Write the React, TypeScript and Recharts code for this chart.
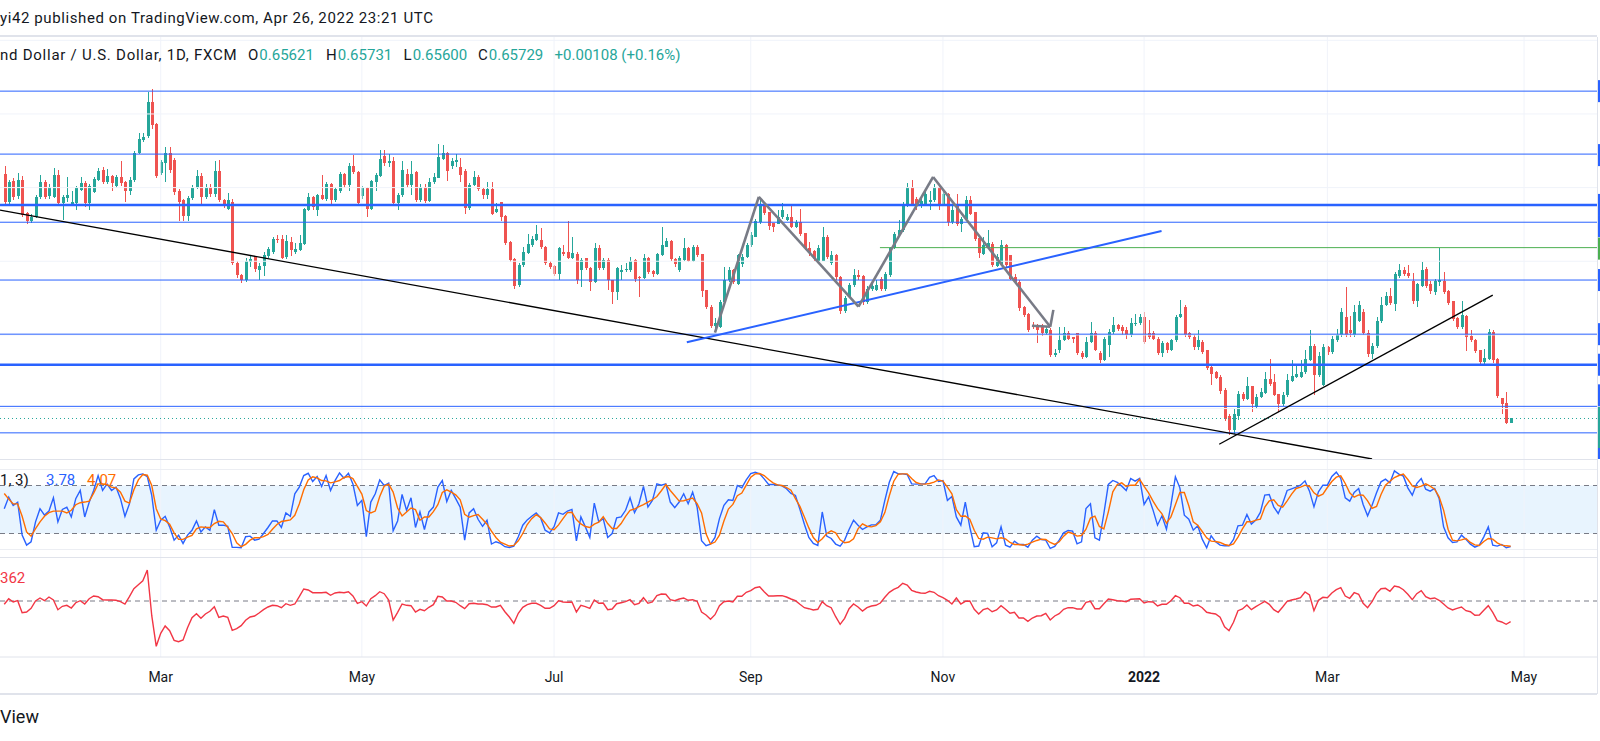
import React from "react";
import { ComposedChart, LineChart, Line, Bar, XAxis, YAxis, ReferenceLine, ReferenceArea } from "recharts";

// NZD/USD daily candles (one entry per bar)
const opens = [
  0.7236, 0.7162, 0.7218, 0.7178, 0.7222, 0.7130, 0.7108, 0.7121, 0.7174, 0.7216,
  0.7178, 0.7175, 0.7234, 0.7157, 0.7173, 0.7155, 0.7157, 0.7193, 0.7212, 0.7157,
  0.7189, 0.7221, 0.7248, 0.7216, 0.7232, 0.7204, 0.7230, 0.7216, 0.7191, 0.7222,
  0.7295, 0.7329, 0.7340, 0.7433, 0.7372, 0.7239, 0.7268, 0.7295, 0.7275, 0.7191,
  0.7165, 0.7123, 0.7171, 0.7198, 0.7232, 0.7175, 0.7203, 0.7184, 0.7246, 0.7165,
  0.7142, 0.7162, 0.6996, 0.6963, 0.6949, 0.6998, 0.7011, 0.6976, 0.6986, 0.7015,
  0.7026, 0.7061, 0.7061, 0.7011, 0.7053, 0.7026, 0.7031,
  0.7047, 0.7140, 0.7174, 0.7140, 0.7179, 0.7168, 0.7210, 0.7165, 0.7190, 0.7237,
  0.7206, 0.7260, 0.7242, 0.7176, 0.7199, 0.7143, 0.7215, 0.7231, 0.7287, 0.7266,
  0.7273, 0.7158, 0.7181, 0.7237, 0.7206, 0.7242, 0.7165, 0.7203, 0.7163, 0.7215,
  0.7226, 0.7278, 0.7294, 0.7258, 0.7270, 0.7257, 0.7246, 0.7145, 0.7207, 0.7228,
  0.7197, 0.7179, 0.7195, 0.7134, 0.7161, 0.7122, 0.7053, 0.7005, 0.6935, 0.6990,
  0.7023, 0.7044, 0.7059, 0.7057, 0.7040, 0.6995, 0.6986, 0.6966, 0.7026, 0.7026,
  0.7010, 0.7020, 0.6977, 0.7008, 0.6983, 0.6943, 0.7035, 0.6981, 0.7004,
  0.6948, 0.6917, 0.6971, 0.6975, 0.6975, 0.7004, 0.6957, 0.6955, 0.7010, 0.6973,
  0.6966, 0.7018, 0.7040, 0.7055, 0.7007, 0.6975, 0.7004, 0.7037, 0.7002, 0.7040,
  0.7019, 0.6921, 0.6876, 0.6825, 0.6822, 0.6890, 0.6948, 0.6975, 0.6939, 0.6992,
  0.7011, 0.7043, 0.7067, 0.7106, 0.7156, 0.7133, 0.7103, 0.7102, 0.7120, 0.7112,
  0.7121, 0.7094, 0.7106, 0.7076, 0.7037, 0.7029, 0.7002, 0.7002, 0.7067, 0.6995,
  0.7016, 0.6957, 0.6865, 0.6903, 0.6935, 0.6964, 0.6959, 0.6890, 0.6926, 0.6921,
  0.6953, 0.6926, 0.6962, 0.7036, 0.7070, 0.7084, 0.7151, 0.7201,
  0.7169, 0.7156, 0.7156, 0.7160, 0.7165, 0.7203, 0.7156, 0.7183, 0.7106, 0.7156,
  0.7102, 0.7115, 0.7165, 0.7133, 0.7064, 0.7020, 0.7037, 0.7047, 0.6986, 0.6993,
  0.7043, 0.7016, 0.6957, 0.6944, 0.6876, 0.6858, 0.6826, 0.6826, 0.6824, 0.6804,
  0.6814, 0.6746, 0.6759, 0.6786, 0.6806, 0.6793, 0.6804, 0.6752, 0.6741, 0.6781,
  0.6804, 0.6750, 0.6732, 0.6772, 0.6808, 0.6826, 0.6822, 0.6813, 0.6799, 0.6829,
  0.6833, 0.6849, 0.6804, 0.6806, 0.6790, 0.6750, 0.6777, 0.6759, 0.6786, 0.6849,
  0.6876, 0.6804, 0.6795, 0.6768,
  0.6782, 0.6758, 0.6714, 0.6699, 0.6685, 0.6651, 0.6581, 0.6541, 0.6580, 0.6640,
  0.6627, 0.6660, 0.6604, 0.6631, 0.6643, 0.6681, 0.6672, 0.6640, 0.6613, 0.6636,
  0.6676, 0.6685, 0.6685, 0.6699, 0.6731, 0.6771, 0.6690, 0.6663, 0.6768, 0.6753,
  0.6785, 0.6800, 0.6848, 0.6812, 0.6800, 0.6839, 0.6862, 0.6805, 0.6747, 0.6771,
  0.6837, 0.6880, 0.6907, 0.6884, 0.6961, 0.6976, 0.6967, 0.6947, 0.6891, 0.6934,
  0.6979, 0.6937, 0.6916, 0.6945, 0.6947, 0.6920, 0.6891, 0.6846, 0.6821, 0.6850,
  0.6796, 0.6787, 0.6758, 0.6726, 0.6735, 0.6807, 0.6735, 0.6628, 0.6615, 0.6562,
];

const highs = [
  0.7259, 0.7221, 0.7225, 0.7240, 0.7232, 0.7135, 0.7128, 0.7180, 0.7235, 0.7222,
  0.7210, 0.7252, 0.7248, 0.7180, 0.7230, 0.7190, 0.7205, 0.7230, 0.7218, 0.7210,
  0.7230, 0.7252, 0.7255, 0.7250, 0.7235, 0.7235, 0.7273, 0.7218, 0.7230, 0.7300,
  0.7347, 0.7349, 0.7460, 0.7469, 0.7375, 0.7275, 0.7311, 0.7311, 0.7280, 0.7195,
  0.7170, 0.7178, 0.7206, 0.7248, 0.7240, 0.7210, 0.7210, 0.7273, 0.7275, 0.7170,
  0.7185, 0.7168, 0.7000, 0.6965, 0.7010, 0.7015, 0.7015, 0.6995, 0.7025, 0.7040,
  0.7065, 0.7072, 0.7070, 0.7070, 0.7065, 0.7050, 0.7070,
  0.7145, 0.7185, 0.7178, 0.7182, 0.7233, 0.7215, 0.7212, 0.7203, 0.7242, 0.7240,
  0.7266, 0.7289, 0.7246, 0.7205, 0.7201, 0.7220, 0.7240, 0.7303, 0.7303, 0.7290,
  0.7282, 0.7185, 0.7271, 0.7250, 0.7271, 0.7245, 0.7210, 0.7210, 0.7225, 0.7240,
  0.7318, 0.7315, 0.7298, 0.7280, 0.7291, 0.7280, 0.7250, 0.7212, 0.7246, 0.7235,
  0.7200, 0.7215, 0.7215, 0.7158, 0.7161, 0.7125, 0.7055, 0.7008, 0.6995, 0.7040,
  0.7074, 0.7068, 0.7098, 0.7089, 0.7042, 0.7000, 0.6990, 0.7040, 0.7044, 0.7110,
  0.7066, 0.7025, 0.7010, 0.7010, 0.6985, 0.7049, 0.7044, 0.7010, 0.7008,
  0.6950, 0.6985, 0.6989, 0.6995, 0.7011, 0.7005, 0.6960, 0.7020, 0.7012, 0.6975,
  0.7022, 0.7093, 0.7062, 0.7057, 0.7010, 0.7015, 0.7064, 0.7040, 0.7045, 0.7043,
  0.7020, 0.6922, 0.6880, 0.6845, 0.6895, 0.6984, 0.6985, 0.6978, 0.7020, 0.7020,
  0.7050, 0.7080, 0.7115, 0.7171, 0.7160, 0.7135, 0.7105, 0.7138, 0.7158, 0.7129,
  0.7156, 0.7112, 0.7142, 0.7078, 0.7052, 0.7030, 0.7045, 0.7093, 0.7070, 0.7029,
  0.7020, 0.6960, 0.6905, 0.6940, 0.6980, 0.6977, 0.6962, 0.6932, 0.6940, 0.6948,
  0.6958, 0.6972, 0.7040, 0.7080, 0.7111, 0.7160, 0.7212, 0.7221,
  0.7175, 0.7175, 0.7196, 0.7192, 0.7210, 0.7205, 0.7190, 0.7185, 0.7150, 0.7183,
  0.7120, 0.7178, 0.7178, 0.7135, 0.7065, 0.7065, 0.7084, 0.7052, 0.7020, 0.7057,
  0.7048, 0.7018, 0.6966, 0.6948, 0.6878, 0.6860, 0.6835, 0.6830, 0.6830, 0.6823,
  0.6820, 0.6763, 0.6822, 0.6822, 0.6810, 0.6795, 0.6806, 0.6755, 0.6795, 0.6835,
  0.6810, 0.6755, 0.6795, 0.6815, 0.6849, 0.6830, 0.6826, 0.6822, 0.6845, 0.6858,
  0.6858, 0.6862, 0.6840, 0.6810, 0.6795, 0.6783, 0.6780, 0.6790, 0.6855, 0.6894,
  0.6880, 0.6808, 0.6800, 0.6813,
  0.6785, 0.6760, 0.6716, 0.6703, 0.6690, 0.6655, 0.6585, 0.6600, 0.6648, 0.6645,
  0.6685, 0.6662, 0.6640, 0.6655, 0.6699, 0.6735, 0.6694, 0.6640, 0.6645, 0.6694,
  0.6731, 0.6717, 0.6731, 0.6758, 0.6812, 0.6775, 0.6753, 0.6776, 0.6770, 0.6798,
  0.6815, 0.6873, 0.6929, 0.6850, 0.6880, 0.6893, 0.6870, 0.6814, 0.6778, 0.6848,
  0.6902, 0.6916, 0.6928, 0.6970, 0.6993, 0.6985, 0.6990, 0.6967, 0.6942, 0.6999,
  0.6985, 0.6946, 0.6952, 0.7037, 0.6970, 0.6922, 0.6893, 0.6848, 0.6893, 0.6855,
  0.6812, 0.6790, 0.6760, 0.6762, 0.6815, 0.6812, 0.6737, 0.6630, 0.6646, 0.6573,
];

const lows = [
  0.7153, 0.7150, 0.7165, 0.7170, 0.7120, 0.7100, 0.7105, 0.7118, 0.7170, 0.7168,
  0.7170, 0.7172, 0.7150, 0.7112, 0.7160, 0.7150, 0.7140, 0.7190, 0.7148, 0.7140,
  0.7185, 0.7218, 0.7210, 0.7210, 0.7190, 0.7200, 0.7205, 0.7162, 0.7180, 0.7215,
  0.7290, 0.7325, 0.7335, 0.7360, 0.7225, 0.7235, 0.7215, 0.7240, 0.7180, 0.7108,
  0.7108, 0.7108, 0.7165, 0.7195, 0.7155, 0.7170, 0.7175, 0.7175, 0.7160, 0.7145,
  0.7140, 0.6990, 0.6955, 0.6942, 0.6945, 0.6985, 0.6970, 0.6950, 0.6960, 0.7010,
  0.7020, 0.7050, 0.7005, 0.7005, 0.7015, 0.7020, 0.7028,
  0.7043, 0.7136, 0.7140, 0.7122, 0.7165, 0.7163, 0.7152, 0.7160, 0.7186, 0.7200,
  0.7192, 0.7238, 0.7155, 0.7170, 0.7120, 0.7140, 0.7190, 0.7228, 0.7258, 0.7255,
  0.7155, 0.7138, 0.7175, 0.7200, 0.7181, 0.7160, 0.7160, 0.7158, 0.7160, 0.7210,
  0.7225, 0.7275, 0.7217, 0.7250, 0.7255, 0.7215, 0.7129, 0.7140, 0.7205, 0.7190,
  0.7170, 0.7170, 0.7125, 0.7130, 0.7110, 0.7045, 0.6998, 0.6925, 0.6930, 0.6985,
  0.7020, 0.7040, 0.7055, 0.7033, 0.6990, 0.6978, 0.6960, 0.6950, 0.7015, 0.7005,
  0.7005, 0.6939, 0.6930, 0.6975, 0.6920, 0.6940, 0.6975, 0.6975, 0.6921,
  0.6885, 0.6894, 0.6948, 0.6970, 0.6970, 0.6944, 0.6903, 0.6953, 0.6965, 0.6957,
  0.6963, 0.7015, 0.7038, 0.7002, 0.6984, 0.6972, 0.7002, 0.6998, 0.6998, 0.7012,
  0.6903, 0.6870, 0.6818, 0.6810, 0.6820, 0.6885, 0.6945, 0.6938, 0.6935, 0.6985,
  0.7008, 0.7040, 0.7065, 0.7100, 0.7125, 0.7084, 0.7079, 0.7100, 0.7115, 0.7108,
  0.7090, 0.7090, 0.7068, 0.7030, 0.7015, 0.7000, 0.7000, 0.7000, 0.7005, 0.6990,
  0.6950, 0.6858, 0.6860, 0.6900, 0.6930, 0.6950, 0.6880, 0.6885, 0.6920, 0.6918,
  0.6920, 0.6920, 0.6958, 0.7032, 0.7065, 0.7080, 0.7148, 0.7150,
  0.7140, 0.7145, 0.7150, 0.7138, 0.7160, 0.7138, 0.7150, 0.7097, 0.7100, 0.7095,
  0.7079, 0.7110, 0.7125, 0.7055, 0.7010, 0.7018, 0.7035, 0.6984, 0.6985, 0.6990,
  0.6982, 0.6948, 0.6938, 0.6866, 0.6848, 0.6807, 0.6815, 0.6777, 0.6798, 0.6800,
  0.6740, 0.6740, 0.6752, 0.6783, 0.6785, 0.6777, 0.6745, 0.6735, 0.6738, 0.6778,
  0.6755, 0.6725, 0.6730, 0.6740, 0.6803, 0.6810, 0.6800, 0.6790, 0.6795, 0.6825,
  0.6828, 0.6776, 0.6790, 0.6785, 0.6745, 0.6740, 0.6752, 0.6755, 0.6780, 0.6845,
  0.6795, 0.6790, 0.6759, 0.6760,
  0.6748, 0.6705, 0.6663, 0.6680, 0.6640, 0.6565, 0.6529, 0.6532, 0.6570, 0.6620,
  0.6622, 0.6590, 0.6600, 0.6628, 0.6640, 0.6660, 0.6633, 0.6590, 0.6608, 0.6632,
  0.6673, 0.6683, 0.6682, 0.6695, 0.6728, 0.6636, 0.6685, 0.6660, 0.6745, 0.6748,
  0.6782, 0.6795, 0.6795, 0.6795, 0.6795, 0.6835, 0.6800, 0.6740, 0.6735, 0.6765,
  0.6832, 0.6878, 0.6880, 0.6866, 0.6955, 0.6960, 0.6955, 0.6885, 0.6877, 0.6930,
  0.6928, 0.6912, 0.6909, 0.6934, 0.6910, 0.6880, 0.6838, 0.6815, 0.6815, 0.6756,
  0.6780, 0.6750, 0.6720, 0.6722, 0.6732, 0.6725, 0.6628, 0.6586, 0.6558, 0.6560,
];

const closes = [
  0.7162, 0.7216, 0.7175, 0.7222, 0.7126, 0.7108, 0.7121, 0.7175, 0.7216, 0.7175,
  0.7203, 0.7234, 0.7157, 0.7175, 0.7180, 0.7162, 0.7198, 0.7212, 0.7157, 0.7204,
  0.7223, 0.7246, 0.7216, 0.7231, 0.7212, 0.7230, 0.7212, 0.7191, 0.7222, 0.7295,
  0.7331, 0.7338, 0.7433, 0.7370, 0.7231, 0.7270, 0.7295, 0.7248, 0.7189, 0.7162,
  0.7123, 0.7171, 0.7200, 0.7232, 0.7175, 0.7203, 0.7184, 0.7246, 0.7165, 0.7153,
  0.7165, 0.6996, 0.6963, 0.6949, 0.7001, 0.7005, 0.6978, 0.6987, 0.7017, 0.7033,
  0.7061, 0.7058, 0.7010, 0.7055, 0.7031, 0.7033, 0.7049,
  0.7141, 0.7174, 0.7146, 0.7179, 0.7168, 0.7210, 0.7165, 0.7197, 0.7237, 0.7206,
  0.7260, 0.7242, 0.7158, 0.7199, 0.7143, 0.7217, 0.7233, 0.7278, 0.7266, 0.7273,
  0.7158, 0.7181, 0.7248, 0.7206, 0.7237, 0.7165, 0.7203, 0.7163, 0.7216, 0.7228,
  0.7282, 0.7295, 0.7244, 0.7273, 0.7275, 0.7233, 0.7145, 0.7208, 0.7228, 0.7197,
  0.7179, 0.7195, 0.7129, 0.7141, 0.7120, 0.7049, 0.7004, 0.6932, 0.6990, 0.7026,
  0.7046, 0.7060, 0.7074, 0.7038, 0.6995, 0.6984, 0.6966, 0.7035, 0.7020, 0.7010,
  0.7022, 0.6950, 0.7004, 0.6981, 0.6943, 0.7035, 0.6981, 0.7004, 0.6948,
  0.6917, 0.6982, 0.6975, 0.6980, 0.7002, 0.6953, 0.6955, 0.7010, 0.6971, 0.6966,
  0.7019, 0.7043, 0.7055, 0.7007, 0.6992, 0.7010, 0.7037, 0.7002, 0.7040, 0.7018,
  0.6919, 0.6876, 0.6825, 0.6833, 0.6890, 0.6950, 0.6975, 0.6944, 0.7016, 0.7011,
  0.7043, 0.7070, 0.7108, 0.7153, 0.7130, 0.7097, 0.7093, 0.7120, 0.7138, 0.7120,
  0.7094, 0.7106, 0.7073, 0.7037, 0.7022, 0.7007, 0.7037, 0.7067, 0.7011, 0.7016,
  0.6957, 0.6865, 0.6900, 0.6935, 0.6964, 0.6957, 0.6890, 0.6926, 0.6932, 0.6935,
  0.6926, 0.6966, 0.7036, 0.7073, 0.7084, 0.7156, 0.7201, 0.7156,
  0.7151, 0.7163, 0.7183, 0.7165, 0.7201, 0.7156, 0.7183, 0.7106, 0.7138, 0.7102,
  0.7115, 0.7165, 0.7129, 0.7061, 0.7022, 0.7043, 0.7049, 0.6989, 0.7011, 0.7043,
  0.6989, 0.6953, 0.6944, 0.6872, 0.6854, 0.6813, 0.6822, 0.6813, 0.6804, 0.6817,
  0.6745, 0.6750, 0.6786, 0.6806, 0.6790, 0.6790, 0.6750, 0.6741, 0.6781, 0.6804,
  0.6759, 0.6732, 0.6790, 0.6808, 0.6826, 0.6817, 0.6810, 0.6799, 0.6831, 0.6833,
  0.6849, 0.6781, 0.6795, 0.6790, 0.6750, 0.6777, 0.6759, 0.6786, 0.6849, 0.6858,
  0.6799, 0.6795, 0.6768, 0.6786,
  0.6753, 0.6711, 0.6694, 0.6684, 0.6649, 0.6572, 0.6541, 0.6585, 0.6640, 0.6627,
  0.6660, 0.6613, 0.6631, 0.6645, 0.6681, 0.6667, 0.6638, 0.6613, 0.6637, 0.6678,
  0.6688, 0.6694, 0.6699, 0.6735, 0.6771, 0.6690, 0.6744, 0.6768, 0.6753, 0.6788,
  0.6800, 0.6862, 0.6800, 0.6805, 0.6862, 0.6880, 0.6805, 0.6747, 0.6771, 0.6837,
  0.6882, 0.6907, 0.6886, 0.6966, 0.6975, 0.6966, 0.6959, 0.6891, 0.6937, 0.6977,
  0.6934, 0.6919, 0.6947, 0.6950, 0.6916, 0.6886, 0.6844, 0.6821, 0.6853, 0.6794,
  0.6785, 0.6756, 0.6726, 0.6737, 0.6807, 0.6731, 0.6633, 0.6613, 0.6561, 0.6573,
];

// Stochastic (14, 1, 3): %K and %D
const stochK = [
  51, 65.5, 55, 59, 18, 5.5, 9.7, 34.5, 51, 43,
  48, 64.7, 34.5, 50, 53, 40.7, 63.5, 73.8, 40.7, 59,
  73.8, 92.4, 73.8, 82, 73.8, 78, 63.5, 41.5, 57, 88.3,
  93.2, 94.5, 91.2, 67.6, 24, 36.6, 41.5, 28.3, 11.7, 18,
  7.6, 18, 24, 35.7, 22, 28.3, 24, 49.8, 30.4, 30.4,
  29, 2.6, 2.6, 2.2, 16, 16.7, 11.7, 13, 20, 27.5,
  35.7, 35.7, 27.5, 45.7, 41.5, 69.7, 78, 92.4, 95.3, 85,
  91.2, 78.8, 92.4, 73.8, 86.2, 95.7, 89, 95.3, 82, 55,
  61.4, 16, 59.3, 69.7, 87, 80, 83, 23.3, 35.7, 68.8,
  49, 64.7, 27.5, 47, 25, 47, 53, 78, 86.2, 60,
  73.8, 63.5, 53, 11.7, 45.7, 51, 37.8, 29, 36.6, 6.8,
  9.7,
  7.6, 3.5, 2.6, 4.3, 15.9, 30.4, 37, 41.5, 45.7, 39.5,
  24.1, 20.8, 28.5, 45.7, 44, 48.1, 50.2, 10.9, 40.7, 28.3,
  15, 58, 34.5, 38.6, 15, 20, 39.5, 40.7, 49, 64.7,
  46, 57.2, 78.8, 53.1, 61.4, 82, 80.4, 82, 59.3, 52.3,
  59.3, 69.7, 57.2, 71.7, 53.1, 10.9, 4.7, 6.8, 15, 38.6,
  55.2, 62.2, 61.4, 80, 77.1, 87, 94.9, 96.5, 94.5, 88.3,
  81.2, 81.2, 80.8, 79.6, 75.9, 70.1, 67.6, 50.2, 31.6, 15,
  7.6, 5.1, 46.9, 16.7, 13.8, 6.8, 4.3, 11.8, 25, 36.6,
  30.4, 25, 28.3, 30.8, 30.8, 36.6, 61.4, 84.1, 97.4, 94.5,
  94.5, 93.7, 82, 81.7, 82, 82, 90.3, 92.4, 85, 86.2,
  61.4, 66.3, 40.7, 30.4, 59.3, 28.3, 3.5, 4.3,
  20.8, 20, 3.3, 8.3, 28.3, 5.4, 2.9, 10.4, 6.3, 6.3,
  2.9, 11.7, 16.7, 12.5, 11.7, 1.3, 3.8, 11.7, 20.8, 23.8,
  22.9, 7.1, 9.6, 51.3, 57.1, 14.6, 11.7, 45, 81.3, 86.3,
  83.8, 79.2, 73.8, 88.8, 85.4, 88.8, 56.3, 65.8, 49.2, 30.4,
  42.1, 25.4, 55.4, 90.8, 77.1, 42.9, 37.9, 24.2, 29.6, 12.9,
  2.1, 17.1, 9.6, 5.4, 4.6, 4.6, 12.5, 29.6, 30.4, 43.8,
  31.7, 36.7,
  46.3, 67.9, 68.8, 53.3, 45, 57.5, 73.8, 75.8, 77.9, 80.4,
  85.8, 72.9, 53.3, 72.1, 80.4, 80.4, 91.3, 96.7, 88.8, 64.6,
  60.4, 71.3, 76.3, 56.3, 42.1, 55.4, 70.8, 84.6, 87.9, 83.3,
  98.3, 94.2, 91.7, 77.1, 67.9, 82.5, 88.8, 75.4, 72.9, 76.3,
  63.8, 28.3, 14.6, 8.8, 9.6, 17.9, 12.9, 6.7, 2.9, 5.4,
  15.8, 28.3, 5.4, 4.2, 6.3, 2.1, 3.8,
];

const stochD = [
  70, 63, 57, 57, 41.5, 22, 16.7, 26, 34.5, 41.5,
  46, 48, 48, 48, 45.7, 49, 56, 58.5, 59.3, 60.5,
  70.5, 82, 82, 81, 78, 77, 71.7, 60.5, 58, 74.6,
  87, 93.6, 92.8, 80, 51, 38.2, 36.1, 31.6, 20.8, 12.6,
  12.6, 15.5, 17.5, 25.8, 28.3, 27.5, 27.5, 32.4, 35.3, 34.5,
  27.9, 20, 8.4, 3.5, 6.4, 11.7, 14.6, 14.6, 16, 18.8,
  25.4, 31.2, 35, 36, 37, 42.8, 57, 74.6, 87, 90.8,
  89.5, 86.2, 85.8, 83.3, 84.5, 86.2, 90, 91.2, 88.7, 79,
  69.2, 48.6, 45.7, 48.1, 66.3, 79.2, 81.7, 71.7, 51.9, 42,
  47, 51.9, 49.8, 36.6, 40.7, 40.7, 47.3, 56, 71.3, 74.6,
  71.7, 68.4, 62.2, 44, 40.3, 42.4, 43.6, 37.8, 31.6, 22.9,
  15,
  9.2, 6.8, 4.3, 5.1, 10.9, 20, 31.2, 38.6, 43.6, 39.9,
  33.2, 25.8, 24.6, 30.8, 38.6, 46.1, 46.5, 37.4, 32, 28.7,
  27.5, 31.6, 34.1, 41.1, 32.4, 26.2, 26.2, 32.4, 41.5, 49,
  50.6, 53.5, 56, 59.3, 62.2, 66.3, 73.4, 81.2, 73.8, 67.2,
  60.5, 61, 62.6, 64.3, 57.2, 45.7, 19.6, 6.8, 9.3, 18,
  35.7, 50.6, 56.4, 67.2, 70.5, 80.4, 90.3, 94.5, 94.9, 92.4,
  87.4, 83.3, 80.8, 80, 77.5, 74.2, 63.5, 53.9, 40.7, 27,
  15, 8.8, 13.4, 20, 23.3, 20.8, 12.1, 8.4, 9.3, 13.4,
  25.8, 32, 29.1, 28.3, 29.9, 34.5, 46.1, 67.2, 85.4, 94.1,
  94.5, 94.5, 88.7, 83.7, 82, 81.7, 82.5, 84.1, 87, 85.4,
  77.9, 69.7, 49.8, 41.5, 41.9, 37.8, 24.1, 13.8,
  12.9, 15.4, 14.6, 13.3, 14.6, 13.3, 8.8, 6.3, 6.3, 5.4,
  6.7, 9.2, 11.3, 12.9, 12.5, 8.8, 6.3, 9.6, 16.7, 21.7,
  20, 16.7, 17.5, 25.4, 39.2, 41.7, 28.8, 25.8, 47.1, 72.1,
  81.3, 83.3, 78.8, 80.4, 80.4, 87.9, 78.8, 70.8, 60.4, 51.3,
  44.6, 32.9, 40.8, 55.8, 71.3, 71.3, 54.6, 34.6, 30.4, 22.5,
  14.6, 10.4, 10, 8.8, 6.3, 5, 7.1, 15.4, 25.8, 34.6,
  34.6, 36.7,
  37.9, 52.9, 60.8, 62.1, 55, 52.9, 60.8, 69.2, 76.3, 77.9,
  80.4, 78.8, 70.8, 66.7, 69.2, 77.5, 85, 90.4, 92.1, 82.5,
  70.8, 65.4, 68.3, 67.9, 60.8, 51.3, 53.8, 68.8, 80.4, 85.4,
  90, 92.5, 94.2, 87.5, 79.6, 77.5, 79.2, 82.1, 79.2, 75.4,
  65.8, 49.2, 25.4, 11.7, 10.8, 12.1, 13.8, 8.8, 5.8, 5,
  10, 13.8, 12.9, 8.3, 5.4, 4.6, 4.1,
];

// lower oscillator (red), zero = dashed line
const oscValues = [
  -3.3, 2.3, -1, 0.3, -11.7, -11, -7.3, 0, 3, 0.3,
  4, 1, -8.7, -5.3, -4.3, -7, -1.7, 0.3, -3, 2.3,
  5, 4.3, 1.3, 1, 1, 0.7, -0.7, -3, 4.3, 12.3,
  16.3, 20.2, 31, -14.7, -45.3, -32.3, -25, -29.7, -39.3, -40.7,
  -39, -26.7, -16.7, -12.7, -17.3, -13, -10.3, -5.7, -16.3, -15,
  -16.3, -29.3, -27.7, -24.7, -19.3, -16, -15, -12, -8.7, -6,
  -4.3, -4.7, -6.7, -2.7, -4.3, -3, 4.3, 12, 11, 8.3,
  8.3, 8.3, 8.7, 5.7, 8, 8.7, 8.3, 9.3, 5, -2.3,
  -0.7, -5, 2.3, 5.3, 9.3, 7.3, 1, -19, -11.3, -3,
  -4.3, -4.7, -11, -8.3, -9.7, -6.3, -3.7, 4.7, 4, 0,
  0, -1.3, -4.7, -7.7, -2.7, -2.3, -3, -3, -3.7, -6,
  -6,
  -4.3, -10.7, -16, -22.3, -12.3, -6.3, -3.7, -2.3, -2.3, -4.3,
  -7.3, -7.3, -4.7, 0.3, -1, -1.3, -1, -11, -4.3, -5.7,
  -7.3, 1, -2.3, -2, -8.7, -8, -2.7, -1.7, -0.7, 1.3,
  -3.7, -2.3, 3.3, -2.3, -1, 5.3, 7, 6.7, 1.3, 0.3,
  2, 3, 0.7, 1.3, -0.3, -11, -14, -18.3, -13.7, -4.7,
  -0.7, 0, -1, 4.7, 4.7, 8.7, 10.3, 13.3, 14.3, 9.3,
  5, 5, 5.3, 5.3, 4, 2, 0.3, -3.3, -6.7, -7.7,
  -9, -8.3, -0.7, -4.7, -6.7, -15.7, -23.3, -17.3, -7.7, -3,
  -6, -10, -6.7, -5, -4.3, -2, 3.7, 8.7, 11.7, 13.7,
  17.7, 16, 10.7, 9, 8, 7.7, 9.7, 8.7, 5.3, 3.3,
  0.7, -3, 3, -3, -0.3, 0, -8.3, -13,
  -8.7, -7.3, -10.7, -9, -4.7, -8.3, -12.3, -11.3, -17, -17,
  -20.3, -17, -15, -14.7, -12.3, -19, -15, -12.7, -8.3, -6.7,
  -6.7, -8, -8, -1.3, -0.3, -7.7, -7.7, -2.7, 2, 1.3,
  0.3, 0, -0.7, 1.7, 2, 2.3, -2, -0.7, -1, -5,
  -3.3, -3.3, 0.3, 5.3, 3.3, -2.3, -2.3, -5, -4, -6.7,
  -11.3, -12.3, -13, -16.3, -25.7, -29.7, -21.3, -9.7, -8, -4,
  -8.7, -5.7,
  -3, -0.3, -3.3, -8.7, -11.3, -6, -0.3, 1, 2, 3.3,
  9, 6, -9.7, 0.7, 3.7, 3.3, 8, 11.3, 13.3, 5,
  2.7, 8.3, 6.7, -2.3, -6.7, -0.7, 7.7, 12.3, 12.7, 9.7,
  15, 14, 11.3, 6.7, 1.3, 7.3, 10.3, 4.3, 2.3, 3,
  0.7, -3, -7, -9, -7.3, -6, -9.7, -10.7, -14.3, -14,
  -9.3, -4.7, -11.3, -19.7, -21, -23.3, -20.7,
];

// time axis: bar index of each month start and its label
const monthTicks = [35, 80, 123, 167, 210, 255, 296, 340];
const monthLabels = ["Mar", "May", "Jul", "Sep", "Nov", "2022", "Mar", "May"];

// drawn price levels
const levels = [0.7462, 0.7291, 0.7153, 0.7106, 0.6949, 0.6802, 0.6719, 0.6606, 0.6534];
const greenLevel = 0.7037;
const greenStartBar = 195.9;
const lastClose = 0.6573;
const priceGrid = [0.66, 0.68, 0.7, 0.72, 0.74, 0.76];

// legend values
const ohlcLabels = ["O", "H", "L", "C"];
const ohlcValues = ["0.65621", "0.65731", "0.65600", "0.65729"];
const changeText = "+0.00108 (+0.16%)";

// trend lines: [barIndex, price] pairs
const longTrend = [[-0.95, 0.7139], [306, 0.6463]];
const blueTrend = [[152.7, 0.678], [258.9, 0.7082]];
const riseTrend = [[271.8, 0.6503], [333, 0.6908]];
const zigzag = [[159, 0.6806], [168.8, 0.7175], [191.1, 0.6877], [207.8, 0.7229], [234, 0.6822], [234.7, 0.6868]];
const zigzagFoot = [[229.9, 0.6825], [234, 0.6822]];

const bars = closes.map((c, i) => ({
  i,
  o: opens[i],
  h: highs[i],
  l: lows[i],
  c,
  range: [lows[i], highs[i]],
  k: stochK[i],
  d: stochD[i],
  osc: oscValues[i],
}));

const X_DOMAIN: [number, number] = [-0.951, 356.32];
const W = 1600;
const UP = "#26a69a";
const DOWN = "#ef5350";
const BLUE = "#2962ff";
const GRID = "#f0f3fa";
const BORDER = "#e0e3eb";
const TEXT = "#131722";
const levelWidths = [1, 1, 2.5, 1, 1, 1, 2.5, 1, 1];
const tagShift = [0, 1, 0, 4, 0, 0, 0, -11, 26];
const ohlcLeft = [248, 326, 403.6, 478];

const Candle = (props: any) => {
  const { x, y, width, height, payload } = props;
  if (x == null || y == null || !payload) return null;
  const { o, h, l, c } = payload;
  const k = h > l ? height / (h - l) : 0;
  const cx = Math.round(x + width / 2);
  const top = y + (h - Math.max(o, c)) * k;
  const bot = y + (h - Math.min(o, c)) * k;
  const color = c >= o ? UP : DOWN;
  return (
    <g shapeRendering="crispEdges">
      <rect x={cx} y={y} width={1} height={Math.max(height, 1)} fill={color} />
      <rect x={cx - 1} y={top} width={3} height={Math.max(bot - top, 1)} fill={color} />
    </g>
  );
};

const tag = (color: string, dy: number, h = 22) => (p: any) => {
  const vb = p.viewBox || {};
  return <rect x={(vb.x || 0) + (vb.width || 0)} y={(vb.y || 0) - h / 2 + dy} width={3} height={h} fill={color} />;
};

const seg = (pts: number[][]) => pts.map((p) => ({ x: p[0], y: p[1] }));

const MonthTick = (props: any) => {
  const { x, payload } = props;
  const idx = monthTicks.indexOf(payload.value);
  const label = monthLabels[idx] || "";
  return (
    <text x={x} y={124} textAnchor="middle" fontSize={14} fill={TEXT} fontWeight={label === "2022" ? 700 : 400}>
      {label}
    </text>
  );
};

const txt = { position: "absolute" as const, fontSize: 15, lineHeight: "19px", whiteSpace: "nowrap" as const };

export default function App() {
  const hr = (top: number, h = 1, color = BORDER, width = 1597) => (
    <div style={{ position: "absolute", left: 0, top, width, height: h, background: color }} />
  );
  return (
    <div
      style={{
        position: "relative",
        width: W,
        height: 741,
        background: "#fff",
        overflow: "hidden",
        fontFamily: "Roboto, 'Noto Sans', sans-serif",
        color: TEXT,
      }}
    >
      <style>{"body{margin:0}"}</style>

      <div style={{ ...txt, left: 0, top: 9, letterSpacing: 0.6 }}>
        yi42 published on TradingView.com, Apr 26, 2022 23:21 UTC
      </div>
      {hr(35, 2)}

      {/* main price pane */}
      <div style={{ position: "absolute", left: 0, top: 37 }}>
        <ComposedChart width={W} height={422} data={bars} margin={{ top: 0, right: 3, bottom: 0, left: 0 }}>
          <XAxis dataKey="i" type="number" domain={X_DOMAIN} allowDataOverflow hide />
          <YAxis type="number" domain={[0.6463, 0.7609]} allowDataOverflow hide />
          {priceGrid.map((p) => (
            <ReferenceLine key={"pg" + p} y={p} stroke={GRID} strokeWidth={1} />
          ))}
          {monthTicks.map((t) => (
            <ReferenceLine key={"mg" + t} x={t} stroke={GRID} strokeWidth={1} />
          ))}
          {levels.map((p, n) => (
            <ReferenceLine key={"lv" + p} y={p} stroke={BLUE} strokeWidth={levelWidths[n]} label={tag(BLUE, tagShift[n])} />
          ))}
          <ReferenceLine
            segment={[{ x: greenStartBar, y: greenLevel }, { x: X_DOMAIN[1], y: greenLevel }]}
            stroke="#4caf50"
            strokeWidth={1}
            ifOverflow="hidden"
          />
          <ReferenceLine y={greenLevel} stroke="none" label={tag("#4caf50", 1)} />
          <ReferenceLine y={lastClose} stroke={UP} strokeWidth={1} strokeDasharray="1 3" label={tag(UP, 9, 41)} />
          <Bar dataKey="range" shape={<Candle />} barSize={3} isAnimationActive={false} />
          <ReferenceLine segment={seg(longTrend)} stroke="#000" strokeWidth={1.3} ifOverflow="hidden" />
          <ReferenceLine segment={seg(riseTrend)} stroke="#000" strokeWidth={1.3} ifOverflow="hidden" />
          <ReferenceLine segment={seg(blueTrend)} stroke={BLUE} strokeWidth={2} ifOverflow="hidden" />
          {zigzag.slice(1).map((p, n) => (
            <ReferenceLine
              key={"zz" + n}
              segment={seg([zigzag[n], p])}
              stroke="#787b86"
              strokeWidth={2.6}
              ifOverflow="hidden"
            />
          ))}
          <ReferenceLine segment={seg(zigzagFoot)} stroke="#787b86" strokeWidth={2.6} ifOverflow="hidden" />
        </ComposedChart>
      </div>

      <div style={{ ...txt, left: 0, top: 46, letterSpacing: 0.75 }}>nd Dollar / U.S. Dollar, 1D, FXCM</div>
      {ohlcLabels.map((k, n) => (
        <div key={k} style={{ ...txt, left: ohlcLeft[n], top: 46 }}>
          {k}
          <span style={{ color: UP, marginLeft: 1 }}>{ohlcValues[n]}</span>
        </div>
      ))}
      <div style={{ ...txt, left: 554.6, top: 46, color: UP }}>{changeText}</div>

      {hr(459)}

      {/* stochastic pane */}
      <div style={{ position: "absolute", left: 0, top: 460 }}>
        <LineChart width={W} height={97} data={bars} margin={{ top: 0, right: 3, bottom: 0, left: 0 }}>
          <XAxis dataKey="i" type="number" domain={X_DOMAIN} allowDataOverflow hide />
          <YAxis type="number" domain={[-9.375, 111.875]} allowDataOverflow hide />
          <ReferenceArea y1={20} y2={80} fill="#2196f3" fillOpacity={0.1} stroke="none" />
          {monthTicks.map((t) => (
            <ReferenceLine key={"sg" + t} x={t} stroke={GRID} strokeWidth={1} />
          ))}
          <ReferenceLine y={100} stroke="#eceef3" strokeWidth={1} />
          <ReferenceLine y={0} stroke="#eceef3" strokeWidth={1} />
          <ReferenceLine y={80} stroke="#787b86" strokeDasharray="5 4" strokeWidth={1} />
          <ReferenceLine y={20} stroke="#787b86" strokeDasharray="5 4" strokeWidth={1} />
          <Line dataKey="k" stroke={BLUE} strokeWidth={1.4} dot={false} isAnimationActive={false} type="linear" />
          <Line dataKey="d" stroke="#ff6d00" strokeWidth={1.4} dot={false} isAnimationActive={false} type="linear" />
        </LineChart>
      </div>
      <div style={{ ...txt, left: 0, top: 471 }}>
        <span style={{ position: "absolute", left: 0 }}>1, 3)</span>
        <span style={{ position: "absolute", left: 46, color: BLUE }}>3.78</span>
        <span style={{ position: "absolute", left: 87, color: "#ff6d00" }}>4.07</span>
      </div>

      {hr(557)}

      {/* oscillator pane + time axis */}
      <div style={{ position: "absolute", left: 0, top: 558 }}>
        <LineChart width={W} height={136} data={bars} margin={{ top: 0, right: 3, bottom: 0, left: 0 }}>
          <XAxis
            dataKey="i"
            type="number"
            domain={X_DOMAIN}
            allowDataOverflow
            ticks={monthTicks}
            interval={0}
            height={37}
            tickLine={false}
            axisLine={{ stroke: BORDER }}
            tick={<MonthTick />}
          />
          <YAxis type="number" domain={[-56, 43]} allowDataOverflow hide />
          {monthTicks.map((t) => (
            <ReferenceLine key={"og" + t} x={t} stroke={GRID} strokeWidth={1} />
          ))}
          <ReferenceLine y={0} stroke="#787b86" strokeDasharray="5 4" strokeWidth={1} />
          <Line dataKey="osc" stroke="#f23645" strokeWidth={1.4} dot={false} isAnimationActive={false} type="linear" />
        </LineChart>
      </div>
      <div style={{ ...txt, left: 0, top: 569, color: "#f23645" }}>362</div>

      {hr(693, 2)}
      <div style={{ position: "absolute", left: 1597, top: 37, width: 1, height: 657, background: BORDER }} />

      <div style={{ ...txt, left: 0, top: 706, fontSize: 18, lineHeight: "22px" }}>View</div>
    </div>
  );
}
